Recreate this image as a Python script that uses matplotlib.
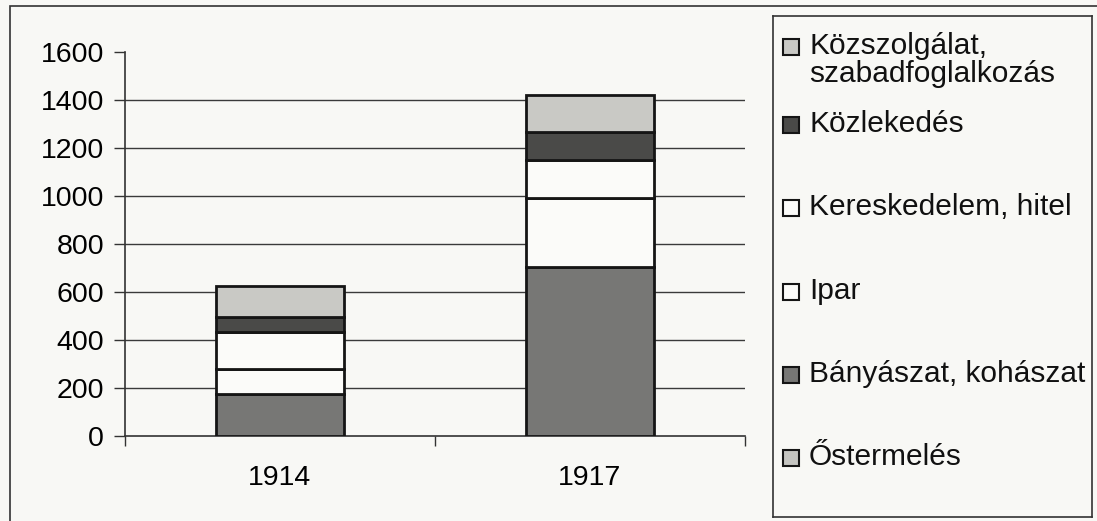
import matplotlib.pyplot as plt
from matplotlib.patches import Rectangle
import numpy as np

plt.rcParams['font.family'] = ['Liberation Sans', 'DejaVu Sans']

# --- données ---
annees = ['1914', '1917']
secteurs = ['Őstermelés', 'Bányászat, kohászat', 'Ipar',
            'Kereskedelem, hitel', 'Közlekedés',
            'Közszolgálat,\nszabadfoglalkozás']
ostermeles = [0, 0]
banyaszat = [175, 705]
ipar = [103, 285]
kereskedelem = [156, 160]
kozlekedes = [60, 118]
kozszolgalat = [132, 153]

couleurs = ['#c4c4c0', '#777775', '#fbfbf9', '#fbfbf9', '#4a4a48', '#c9c9c5']
fond = '#f8f8f5'

W, H = 1097, 521
fig = plt.figure(figsize=(W / 100, H / 100), dpi=100)
fig.patch.set_facecolor(fond)

# cadre extérieur
fig.add_artist(Rectangle((10 / W, -0.01), 1.2, (521 - 6) / H + 0.01,
                         transform=fig.transFigure, fill=False,
                         edgecolor='#333333', linewidth=1.2))

ax = fig.add_axes([125 / W, (H - 436) / H, (745 - 125) / W, (436 - 52) / H])
ax.set_facecolor('none')

x = np.arange(len(annees))
series = [ostermeles, banyaszat, ipar, kereskedelem, kozlekedes, kozszolgalat]
bas = np.zeros(len(annees))
for vals, c in zip(series, couleurs):
    ax.bar(x, vals, 0.41, bottom=bas, color=c, edgecolor='#151515',
           linewidth=2, zorder=3)
    bas += np.array(vals)

ax.set_xlim(-0.5, 1.5)
ax.set_ylim(0, 1600)
ax.set_yticks(np.arange(0, 1601, 200))
for v in range(200, 1600, 200):
    ax.axhline(v, color='#3a3a3a', linewidth=1, zorder=1)

ax.set_xticks(x)
ax.set_xticklabels(annees)
ax.set_xticks([-0.5, 0.5, 1.5], minor=True)
ax.tick_params(axis='x', which='major', length=0, pad=21, labelsize=20.5)
ax.tick_params(axis='x', which='minor', length=7, width=1, color='#333333')
ax.tick_params(axis='y', length=8, width=1, pad=7, labelsize=20.5,
               color='#333333')

for s in ['top', 'right']:
    ax.spines[s].set_visible(False)
for s in ['left', 'bottom']:
    ax.spines[s].set_color('#333333')
    ax.spines[s].set_linewidth(1.2)

# --- légende dessinée à la main (style Excel) ---
lx0, lx1, ly0, ly1 = 773, 1092, 16, 517
lax = fig.add_axes([lx0 / W, (H - ly1) / H, (lx1 - lx0) / W, (ly1 - ly0) / H])
lax.set_xlim(lx0, lx1)
lax.set_ylim(ly1, ly0)
lax.set_xticks([])
lax.set_yticks([])
lax.set_facecolor('none')
for s in lax.spines.values():
    s.set_color('#333333')
    s.set_linewidth(1.2)

pos_y = [458, 375, 292, 208, 125, 47]
for nom, c, yy in zip(secteurs, couleurs, pos_y):
    lax.add_patch(Rectangle((783, yy - 8), 16, 16, facecolor=c,
                            edgecolor='#151515', linewidth=1.5))
    lax.text(809, yy - 15, nom, fontsize=21.5, va='top', ha='left',
             linespacing=1.0, color='#111111')

fig.savefig('out.png', dpi=100, facecolor=fond)
